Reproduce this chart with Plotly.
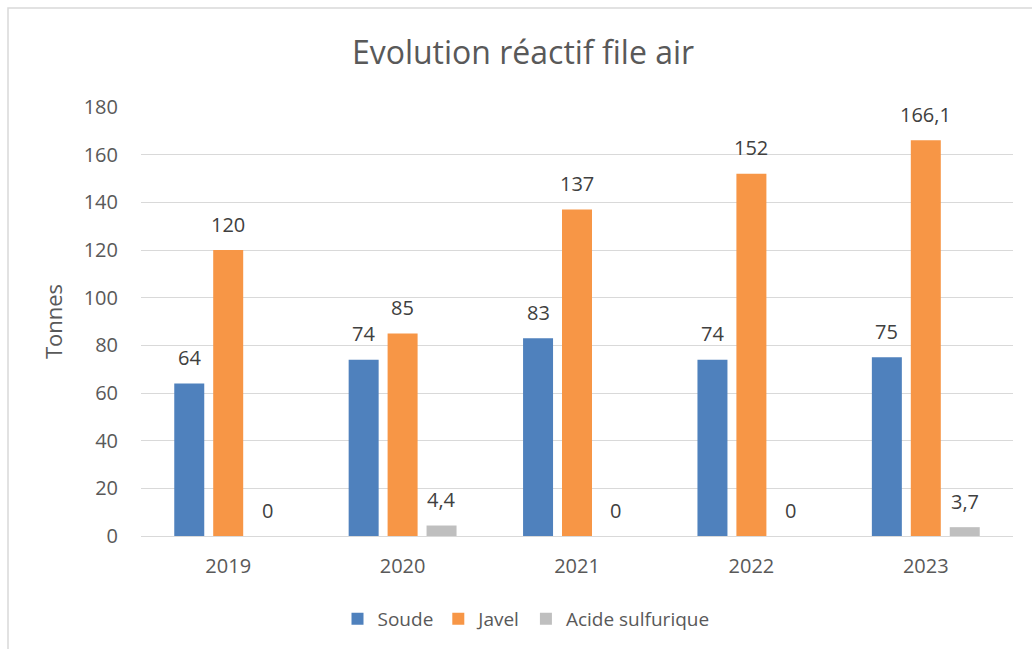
import plotly.graph_objects as go

years = ["2019", "2020", "2021", "2022", "2023"]
soude = [64, 74, 83, 74, 75]
javel = [120, 85, 137, 152, 166.1]
acide = [0, 4.4, 0, 0, 3.7]

series = [
    ("Soude", soude, "#4F81BD"),
    ("Javel", javel, "#F79646"),
    ("Acide sulfurique", acide, "#BFBFBF"),
]

TEXT = "#595959"
FONT = "Open Sans"

# plot area in pixels: x 141..1013, y 107..536
L, R, T, B = 141, 19, 107, 113
W, H = 1032, 649
pw, ph = W - L - R, H - T - B
BARGAP = 0.33
slot = pw / len(years) * (1 - BARGAP) / len(series)


def fr(v):
    return ("%g" % v).replace(".", ",")


def px_x(p):
    return (p - L) / pw


def px_y(p):
    return (H - B - p) / ph


fig = go.Figure()
annotations = []
for i, (name, vals, color) in enumerate(series):
    fig.add_trace(go.Bar(
        name=name,
        x=years,
        y=vals,
        marker=dict(color=color, line=dict(width=0)),
    ))
    # value labels above each bar
    for k, v in enumerate(vals):
        annotations.append(dict(
            x=k, y=v, xref="x", yref="y",
            text=fr(v), showarrow=False,
            xshift=(i - (len(series) - 1) / 2) * slot,
            yshift=26, yanchor="middle", xanchor="center",
            font=dict(family=FONT, size=20, color="#404040"),
        ))

fig.update_layout(
    width=W, height=H,
    margin=dict(l=L, r=R, t=T, b=B, autoexpand=False),
    paper_bgcolor="white",
    plot_bgcolor="white",
    barmode="group",
    bargap=BARGAP,
    bargroupgap=0.23,
    font=dict(family=FONT, color=TEXT, size=18),
    title=dict(
        text="Evolution réactif file air",
        x=523 / W, xref="container", xanchor="center",
        y=1 - 53 / H, yref="container", yanchor="middle",
        font=dict(family=FONT, size=32, color=TEXT),
    ),
    xaxis=dict(
        type="category",
        showgrid=False, automargin=False,
        showline=True, linecolor="#D9D9D9", linewidth=1,
        ticks="", tickfont=dict(size=20, color=TEXT),
        ticklabelstandoff=12,
    ),
    yaxis=dict(
        range=[0, 180], dtick=20, automargin=False,
        showgrid=True, gridcolor="#D9D9D9", gridwidth=1,
        zeroline=False, showline=False,
        ticks="", tickfont=dict(size=20, color=TEXT),
        ticklabelstandoff=22,
        title=dict(text="Tonnes", font=dict(size=22, color=TEXT), standoff=14),
    ),
    legend=dict(
        orientation="h",
        xref="container",
        x=526 / W, xanchor="center",
        y=px_y(619), yanchor="middle",
        font=dict(size=19, color=TEXT),
        traceorder="normal",
    ),
    annotations=annotations,
    shapes=[dict(
        type="rect", xref="paper", yref="paper",
        x0=px_x(8), x1=px_x(1040), y0=px_y(660), y1=px_y(8),
        line=dict(color="#D9D9D9", width=1.5), fillcolor="rgba(0,0,0,0)",
        layer="below",
    )],
)

fig.write_html("out.html")
